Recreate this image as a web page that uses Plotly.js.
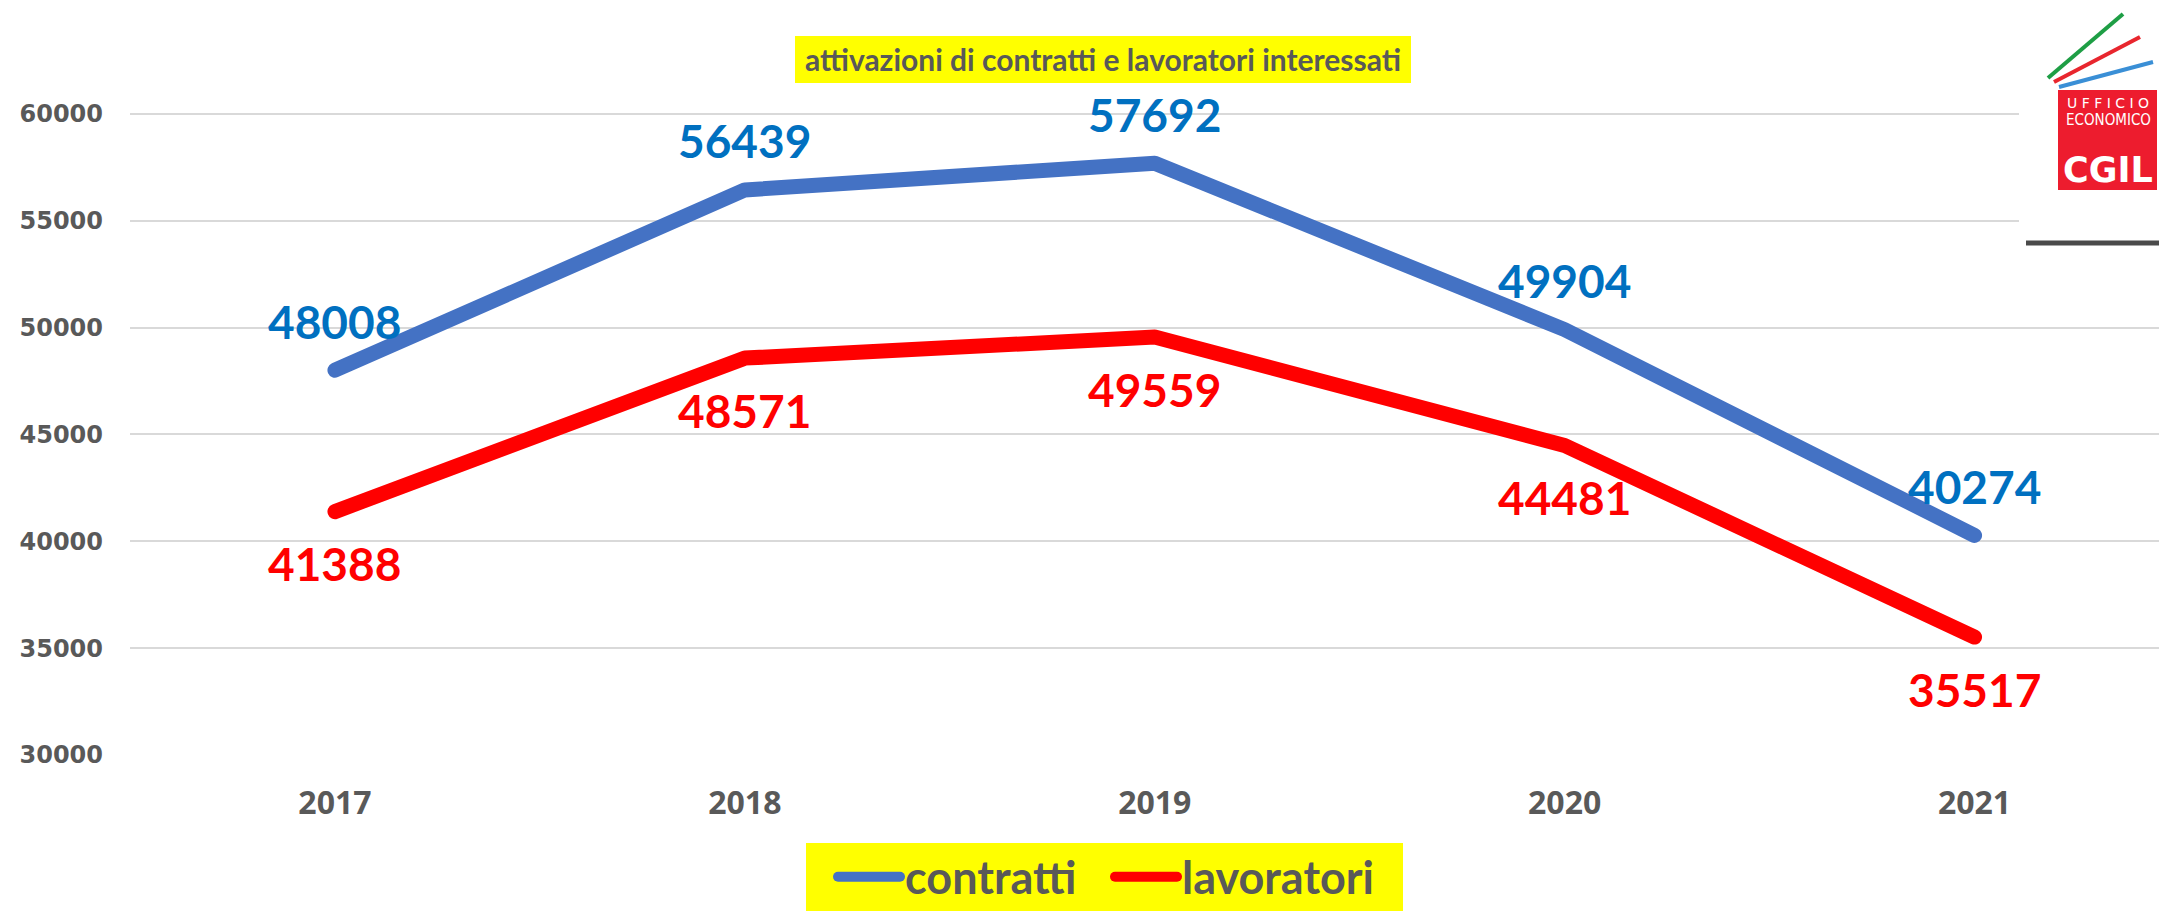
<!DOCTYPE html>
<html>
<head>
<meta charset="utf-8">
<script src="https://cdn.plot.ly/plotly-3.0.1.min.js"></script>
<style>
html,body{margin:0;padding:0;background:#fff;}
#chart{width:2159px;height:911px;}
.scatterlayer path.js-line{stroke-linecap:round;stroke-linejoin:round;}
.legend path.js-line{stroke-linecap:round;}
</style>
</head>
<body>
<div id="chart"></div>
<script>
// ---- data ----
const years = ['2017', '2018', '2019', '2020', '2021'];
const contratti = [48008, 56439, 57692, 49904, 40274];
const lavoratori = [41388, 48571, 49559, 44481, 35517];
const seriesNames = ['contratti', 'lavoratori'];
const yTicks = [30000, 35000, 40000, 45000, 50000, 55000, 60000];
const titleText = 'attivazioni di contratti e lavoratori interessati';

// ---- geometry helpers (pixel -> paper) ----
const W = 2159, H = 911;
const M = {l: 130, r: 0, t: 7, b: 156};
const PW = W - M.l - M.r, PH = H - M.t - M.b;
const px = p => (p - M.l) / PW;
const py = p => (H - M.b - p) / PH;

const GREY = '#595959';
const BLUE_LINE = '#4472C4', BLUE_TXT = '#0070C0';
const RED = '#FF0000';
const FONT = 'Lato, "Open Sans", sans-serif';

const traces = [
  {x: years, y: contratti, name: seriesNames[0], type: 'scatter', mode: 'lines',
   line: {color: BLUE_LINE, width: 15}, hoverinfo: 'x+y'},
  {x: years, y: lavoratori, name: seriesNames[1], type: 'scatter', mode: 'lines',
   line: {color: RED, width: 15}, hoverinfo: 'x+y'}
];

const annotations = [];
years.forEach((yr, i) => {
  annotations.push({x: i, y: contratti[i], xref: 'x', yref: 'y', text: String(contratti[i]),
    xanchor: 'center', yanchor: 'middle',
    showarrow: false, yshift: 49, font: {family: FONT, size: 46, color: BLUE_TXT, weight: 'bold'}});
  annotations.push({x: i, y: lavoratori[i], xref: 'x', yref: 'y', text: String(lavoratori[i]),
    xanchor: 'center', yanchor: 'middle',
    showarrow: false, yshift: -52, font: {family: FONT, size: 46, color: RED, weight: 'bold'}});
});

// logo texts
annotations.push({xref: 'paper', yref: 'paper', x: px(2108), y: py(103), xanchor: 'center', yanchor: 'middle',
  text: 'U F F I C I O', showarrow: false,
  font: {family: '"DejaVu Sans", sans-serif', size: 14, color: '#fff'}});
annotations.push({xref: 'paper', yref: 'paper', x: px(2108), y: py(120), xanchor: 'center', yanchor: 'middle',
  text: 'ECONOMICO', showarrow: false,
  font: {family: '"DejaVu Sans Condensed", "Liberation Sans Narrow", sans-serif', size: 15, color: '#fff'}});
annotations.push({xref: 'paper', yref: 'paper', x: px(2108), y: py(170), xanchor: 'center', yanchor: 'middle',
  text: 'CGIL', showarrow: false,
  font: {family: '"DejaVu Sans", sans-serif', size: 35, color: '#fff', weight: 'bold'}});

const shapes = [
  // title highlight
  {type: 'rect', xref: 'paper', yref: 'paper', x0: px(795), x1: px(1411), y0: py(83), y1: py(36),
   fillcolor: '#FFFF00', line: {width: 0}, layer: 'above'},
  // legend highlight
  {type: 'rect', xref: 'paper', yref: 'paper', x0: px(806), x1: px(1403), y0: py(912), y1: py(843),
   fillcolor: '#FFFF00', line: {width: 0}, layer: 'above'},
  // logo white box
  {type: 'rect', xref: 'paper', yref: 'paper', x0: px(2019), x1: px(2160), y0: py(240), y1: py(0),
   fillcolor: '#FFFFFF', line: {width: 0}, layer: 'above'},
  // logo shadow
  {type: 'line', xref: 'paper', yref: 'paper', x0: px(2026), x1: px(2159), y0: py(243), y1: py(243),
   line: {color: '#4a4a4a', width: 5}, layer: 'above'},
  // red square
  {type: 'rect', xref: 'paper', yref: 'paper', x0: px(2058), x1: px(2157), y0: py(190), y1: py(90),
   fillcolor: '#ED1C2E', line: {width: 0}, layer: 'above'},
  // stripes
  {type: 'line', xref: 'paper', yref: 'paper', x0: px(2048), y0: py(78), x1: px(2123), y1: py(14),
   line: {color: '#1E9E45', width: 4}, layer: 'above'},
  {type: 'line', xref: 'paper', yref: 'paper', x0: px(2054), y0: py(82), x1: px(2140), y1: py(37),
   line: {color: '#E8262E', width: 4}, layer: 'above'},
  {type: 'line', xref: 'paper', yref: 'paper', x0: px(2059), y0: py(87), x1: px(2153), y1: py(62),
   line: {color: '#3A8FD6', width: 4}, layer: 'above'}
];

const layout = {
  width: W, height: H,
  margin: M,
  paper_bgcolor: '#fff', plot_bgcolor: '#fff',
  title: {text: titleText, xref: 'container', yref: 'container', x: 1103 / W, xanchor: 'center',
    y: 1 - 60 / H, yanchor: 'middle', font: {family: FONT, size: 30, color: GREY, weight: 'bold'}},
  xaxis: {type: 'category', categoryorder: 'array', categoryarray: years, range: [-0.5, 4.45],
    showgrid: false, zeroline: false, showline: false, ticks: '',
    tickfont: {family: '"Open Sans", sans-serif', size: 32, color: GREY, weight: 'bold'},
    ticklabelstandoff: 26, fixedrange: true},
  yaxis: {range: [30000, 65000], tickvals: yTicks, ticktext: yTicks.map(String),
    showgrid: true, gridcolor: '#D9D9D9', gridwidth: 2, zeroline: false, showline: false, ticks: '',
    tickfont: {family: '"DejaVu Sans", sans-serif', size: 24, color: GREY, weight: 'bold'},
    ticklabelstandoff: 26, fixedrange: true},
  showlegend: true,
  legend: {orientation: 'h', xref: 'container', yref: 'container', x: 833 / W, xanchor: 'left',
    y: 1 - 877 / H, yanchor: 'middle', bgcolor: 'rgba(0,0,0,0)', borderwidth: 0,
    font: {family: FONT, size: 45, color: GREY, weight: 'bold'}, itemwidth: 62, entrywidth: 200},
  annotations: annotations,
  shapes: shapes
};

Plotly.newPlot('chart', traces, layout, {displayModeBar: false, staticPlot: true});
</script>
</body>
</html>
